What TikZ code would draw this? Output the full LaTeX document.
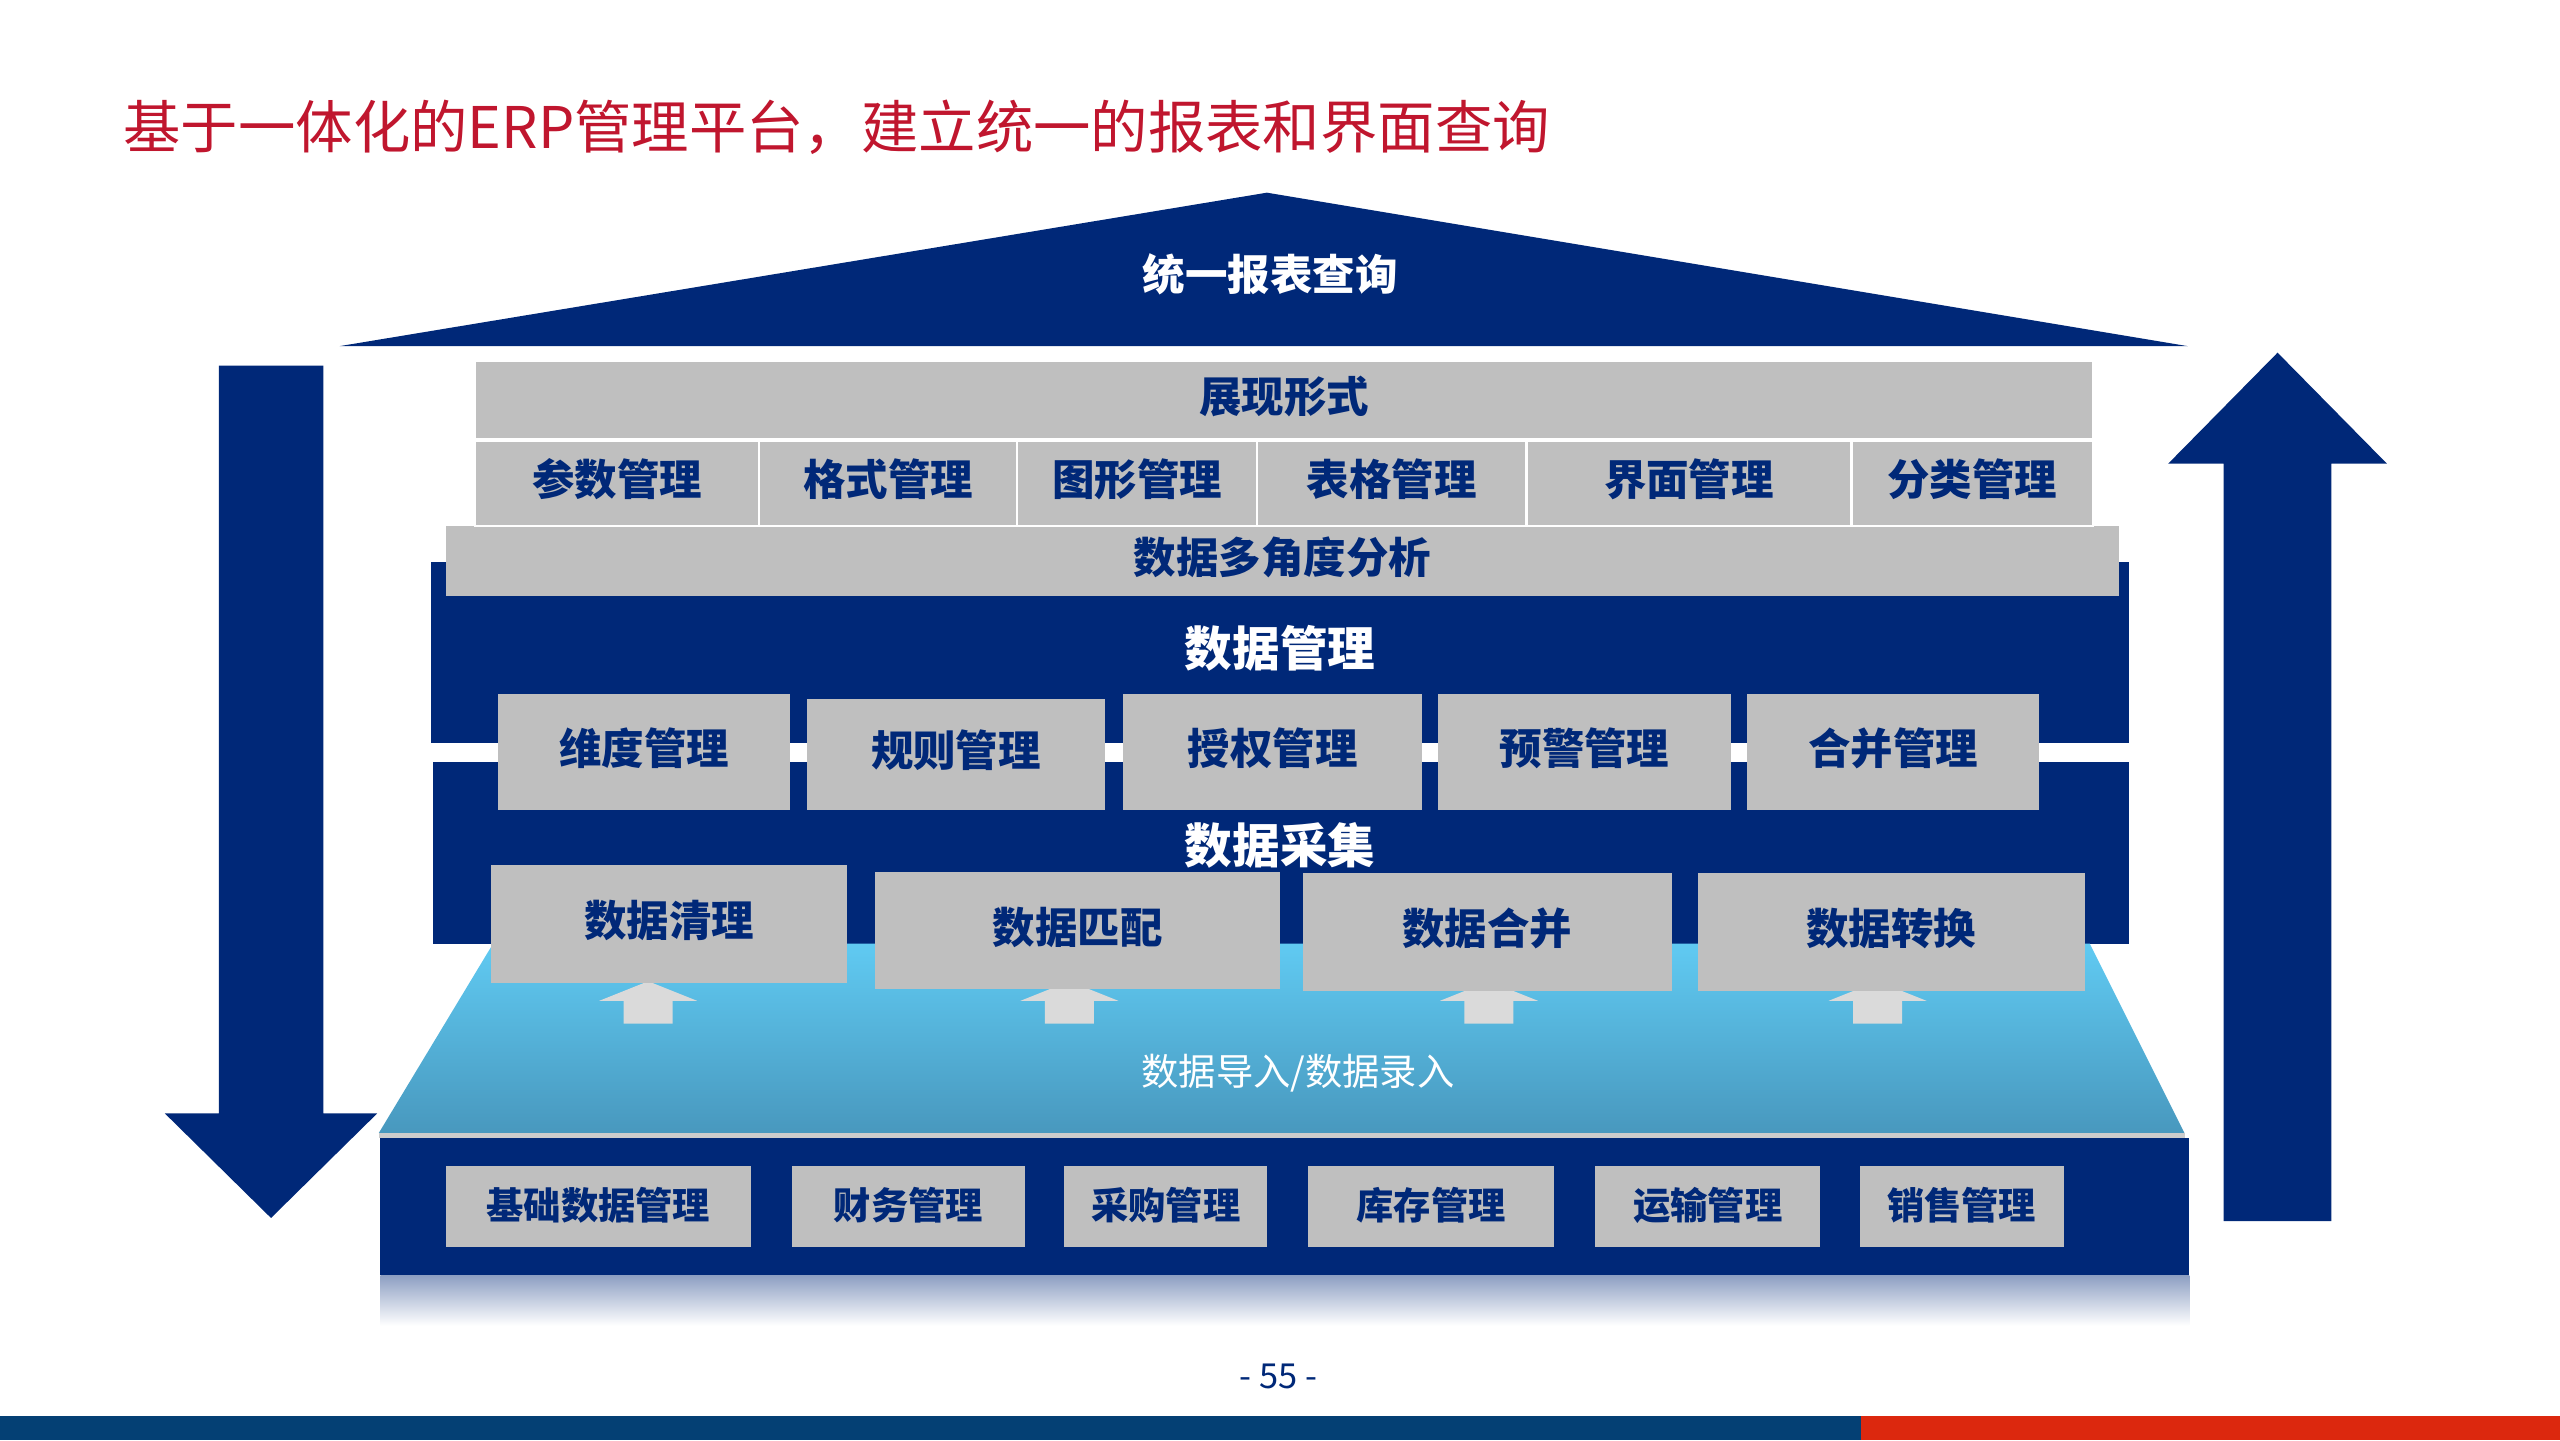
\documentclass[tikz,border=0pt]{standalone}
\usepackage{fontspec}
\setmainfont{Noto Sans CJK SC}
\usetikzlibrary{positioning}
\definecolor{navy}{RGB}{0,40,120}
\definecolor{boxgray}{RGB}{191,191,191}
\definecolor{titlered}{RGB}{192,22,46}
\definecolor{skytop}{RGB}{96,202,242}
\definecolor{skybot}{RGB}{72,152,190}
\definecolor{barblue}{RGB}{4,64,116}
\definecolor{barred}{RGB}{220,40,14}
\definecolor{arrowgray}{RGB}{218,218,218}
\tikzset{
  graybox/.style={fill=boxgray, inner sep=0pt, text=navy, text height=0.72em, text depth=0.28em, font=\bfseries\fontsize{7.4}{8}\selectfont},
  cell/.style={graybox, draw=white, line width=0.4pt, outer sep=0pt, minimum height=5.2mm},
  basebox/.style={graybox, minimum height=5mm, font=\bfseries\fontsize{6.5}{7}\selectfont},
  band/.style={fill=navy},
  bandtitle/.style={text=white, font=\bfseries\fontsize{8.3}{9}\selectfont},
}
\begin{document}
\begin{tikzpicture}[x=0.1mm, y=-0.1mm]
\useasboundingbox (0,0) rectangle (1568,882);
\node[anchor=west, inner sep=0pt, text=titlered, font=\fontsize{10}{12}\selectfont] (title) at (75,78) {基于一体化的ERP管理平台，建立统一的报表和界面查询};

\fill[band] (208,212) -- (776,118) -- (1340,212) -- cycle;
\node[bandtitle, font=\bfseries\fontsize{7.4}{8}\selectfont] (roof) at (778,168) {统一报表查询};

\fill[band] (134,224) -- (198,224) -- (198,682) -- (231,682) -- (166,746) -- (101,682) -- (134,682) -- cycle;
\fill[band] (1362,748) -- (1428,748) -- (1428,284) -- (1462,284) -- (1395,216) -- (1328,284) -- (1362,284) -- cycle;

\fill[band] (264,344) rectangle (1304,455);
\fill[band] (265,467) rectangle (1304,578);

\node[graybox, minimum width=102.5mm, minimum height=4.3mm] (dfx) at (785.5,343.5) {数据多角度分析};
\node[graybox, draw=white, line width=0.4pt, minimum width=99.1mm, minimum height=4.8mm] (zx) at (786.5,245) {展现形式};
\node[cell, minimum width=17.4mm, anchor=north west] (cs) at (291,270) {参数管理};
\node[cell, minimum width=15.8mm, right=0pt of cs] (gs) {格式管理};
\node[cell, minimum width=14.7mm, right=0pt of gs] (tx) {图形管理};
\node[cell, minimum width=16.5mm, right=0pt of tx] (bg) {表格管理};
\node[cell, minimum width=19.9mm, right=0pt of bg] (jm) {界面管理};
\node[cell, minimum width=14.8mm, right=0pt of jm] (fl) {分类管理};

\node[bandtitle] (sjgl) at (784,397) {数据管理};
\node[graybox, minimum width=17.9mm, minimum height=7.1mm] (wd) at (394.5,460.5) {维度管理};
\node[graybox, minimum width=18.3mm, minimum height=6.8mm] (gz) at (585.5,462) {规则管理};
\node[graybox, minimum width=18.3mm, minimum height=7.1mm] (sq) at (779.5,460.5) {授权管理};
\node[graybox, minimum width=17.9mm, minimum height=7.1mm] (yj) at (970.5,460.5) {预警管理};
\node[graybox, minimum width=17.9mm, minimum height=7.1mm] (hb) at (1159.5,460.5) {合并管理};

\shade[top color=skytop, bottom color=skybot] (302,578) -- (1280,578) -- (1338,694) -- (232,694) -- cycle;
\fill[black!20] (232,694) rectangle (1338,697);
\foreach \x in {397,655,912,1150}
  \fill[arrowgray] (\x,601) -- (\x+30,613) -- (\x+15,613) -- (\x+15,627) -- (\x-15,627) -- (\x-15,613) -- (\x-30,613) -- cycle;
\node[text=white, font=\fontsize{6.5}{7}\selectfont] (dr) at (795,657) {数据导入/数据录入};

\node[graybox, minimum width=21.8mm, minimum height=7.2mm] (ql) at (410,566) {数据清理};
\node[graybox, minimum width=24.8mm, minimum height=7.2mm] (pp) at (660,570) {数据匹配};
\node[graybox, minimum width=22.6mm, minimum height=7.2mm] (hbs) at (911,571) {数据合并};
\node[graybox, minimum width=23.7mm, minimum height=7.2mm] (zh) at (1158.5,571) {数据转换};
\node[bandtitle] (sjcj) at (784,518) {数据采集};

\fill[band] (233,697) rectangle (1341,781);
\shade[top color=navy!45!white, bottom color=white] (233,781) rectangle (1341,812);
\node[basebox, minimum width=18.7mm] (jc) at (366.5,739) {基础数据管理};
\node[basebox, minimum width=14.3mm] (cw) at (556.5,739) {财务管理};
\node[basebox, minimum width=12.4mm] (cg) at (714,739) {采购管理};
\node[basebox, minimum width=15.1mm] (kc) at (876.5,739) {库存管理};
\node[basebox, minimum width=13.8mm] (ys) at (1046,739) {运输管理};
\node[basebox, minimum width=12.5mm] (xs) at (1201.5,739) {销售管理};

\node[text=navy, font=\fontsize{6}{7}\selectfont] (page) at (783,843) {- 55 -};
\fill[barblue] (0,867) rectangle (1140,882);
\fill[barred] (1140,867) rectangle (1568,882);
\end{tikzpicture}
\end{document}
